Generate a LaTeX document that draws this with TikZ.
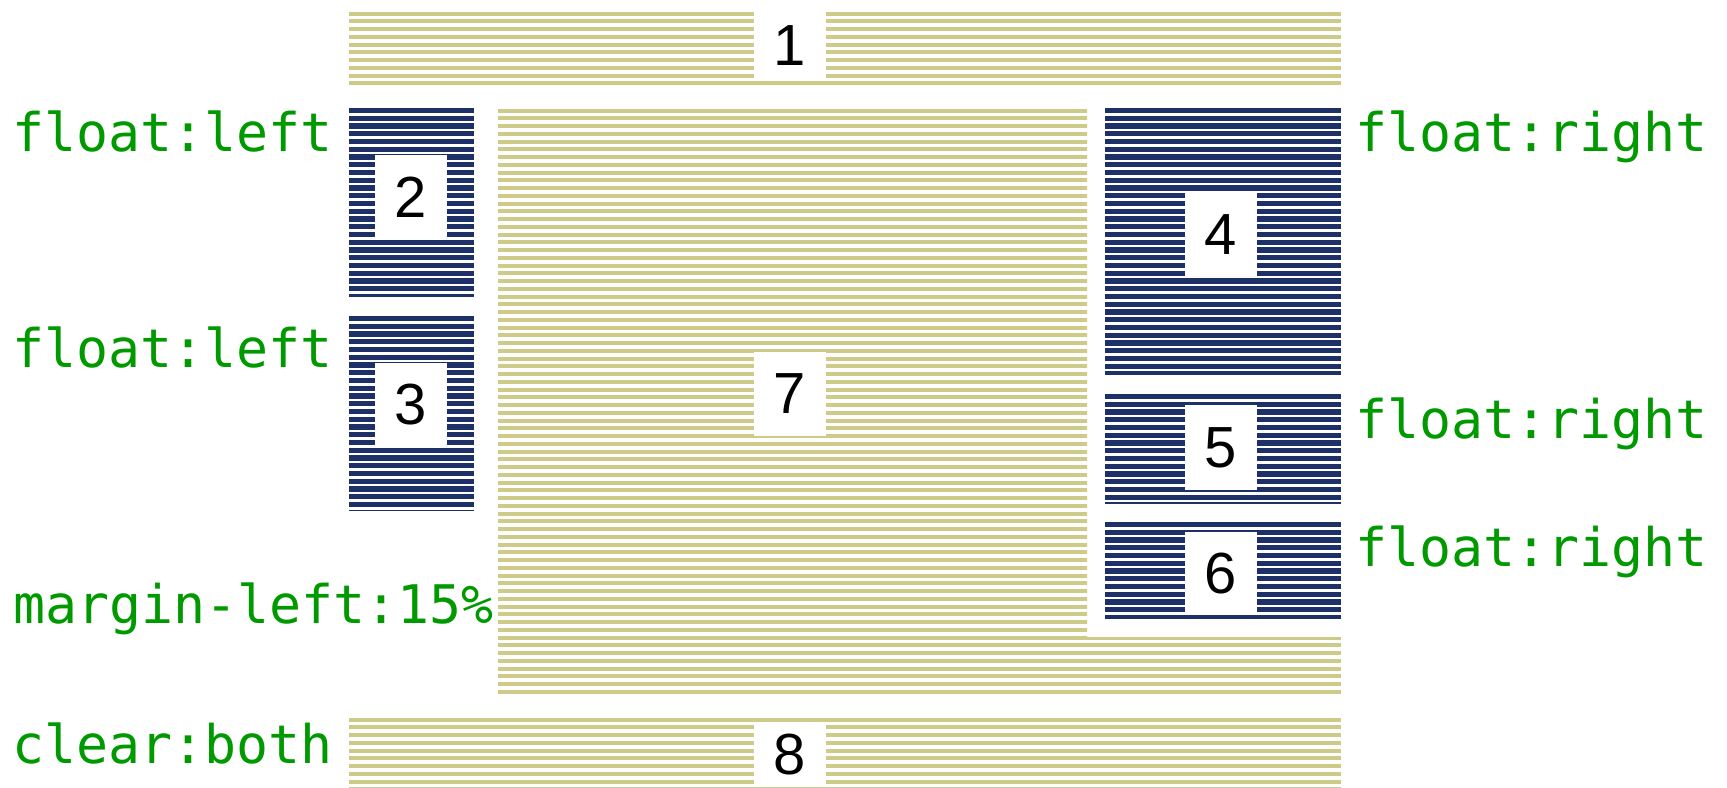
\documentclass[tikz,border=0pt]{standalone}
\usepackage{fontspec}
\setmainfont{Liberation Sans}
\setmonofont{DejaVu Sans Mono}
\definecolor{hay}{RGB}{206,203,136}
\definecolor{navy}{RGB}{30,48,104}
\definecolor{cssgreen}{RGB}{0,153,0}
\tikzset{
  haylines/.style ={draw=hay, line width=2pt},
  navylines/.style={draw=navy, line width=2.6pt},
  numbox/.style   ={fill=white, inner sep=0pt, minimum width=36pt,
                    font=\fontsize{29}{32}\selectfont},
  prop/.style     ={text=cssgreen, inner sep=0pt,
                    font=\ttfamily\fontsize{26.6}{30}\selectfont},
}
% horizontal stripes inside a rectangle
\newcommand{\stripebox}[5]{%
  \begin{scope}
    \clip (#1,#2) rectangle (#3,#4);
    \foreach \k in {0,...,90}
      \draw[#5] (#1,{#2+4.5+7.75*\k}) -- (#3,{#2+4.5+7.75*\k});
  \end{scope}}

\begin{document}
\begin{tikzpicture}[x=0.5pt, y=-0.5pt]
  \useasboundingbox (0,0) rectangle (1727,787);

  % boxes
  \stripebox{349}{9}{1341}{87}{haylines}
  \stripebox{349}{106}{474}{296}{navylines}
  \stripebox{349}{314}{474}{510}{navylines}
  \stripebox{1105}{106}{1341}{374}{navylines}
  \stripebox{1105}{392}{1341}{503}{navylines}
  \stripebox{1105}{520}{1341}{618}{navylines}
  \begin{scope}
    \clip (498,106) -- (1087,106) -- (1087,637) -- (1341,637)
          -- (1341,696) -- (498,696) -- cycle;
    \foreach \k in {0,...,90}
      \draw[haylines] (498,{106+4.5+7.75*\k}) -- (1341,{106+4.5+7.75*\k});
  \end{scope}
  \stripebox{349}{715}{1341}{787}{haylines}

  % numbers
  \node[numbox, minimum height=34.5pt] (n1) at (790,45.5)  {1};
  \node[numbox, minimum height=42pt]   (n2) at (410.5,197) {2};
  \node[numbox, minimum height=42pt]   (n3) at (410.5,405) {3};
  \node[numbox, minimum height=42pt]   (n4) at (1221,234.5) {4};
  \node[numbox, minimum height=42.5pt] (n5) at (1221,447.5) {5};
  \node[numbox, minimum height=41.5pt] (n6) at (1221,573.5) {6};
  \node[numbox, minimum height=42pt]   (n7) at (790,394)   {7};
  \node[numbox, minimum height=32.5pt] (n8) at (790,754.5) {8};

  % property labels
  \node[prop, anchor=base east] (fl1) at (333,151) {float:left};
  \node[prop, anchor=base east] (fl2) at (333,367) {float:left};
  \node[prop, anchor=base east] (ml)  at (494,623) {margin-left:15\%};
  \node[prop, anchor=base east] (cb)  at (333,763) {clear:both};
  \node[prop, anchor=base west] (fr1) at (1355,151) {float:right};
  \node[prop, anchor=base west] (fr2) at (1355,438) {float:right};
  \node[prop, anchor=base west] (fr3) at (1355,566) {float:right};
\end{tikzpicture}
\end{document}
